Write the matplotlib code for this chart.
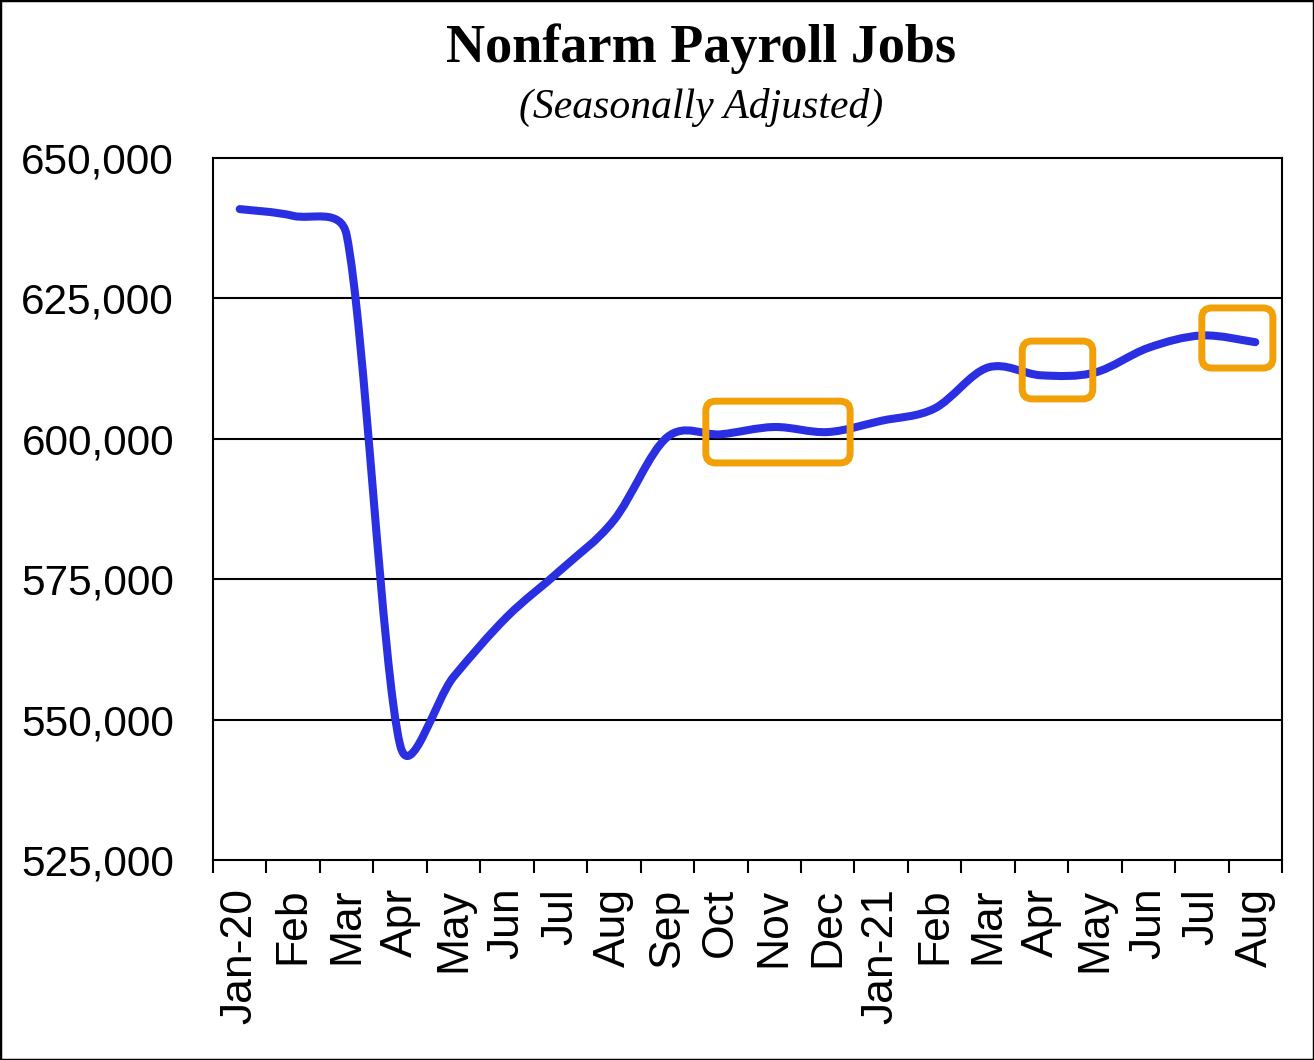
import matplotlib.pyplot as plt
import numpy as np
from matplotlib.path import Path
from matplotlib.patches import PathPatch, FancyBboxPatch, Rectangle


months = ['Jan-20', 'Feb', 'Mar', 'Apr', 'May', 'Jun', 'Jul', 'Aug', 'Sep', 'Oct',
          'Nov', 'Dec', 'Jan-21', 'Feb', 'Mar', 'Apr', 'May', 'Jun', 'Jul', 'Aug']
jobs = [640900, 639700, 636300, 545500, 557600, 568300, 576600, 585500, 600300, 600800,
        602100, 601200, 603200, 605400, 612700, 611300, 611800, 616200, 618400, 617200]
y_ticks = [525000, 550000, 575000, 600000, 625000, 650000]

# highlighted stretches (month index from, to, jobs low, high)
box_x0 = [8.72, 14.64, 18.0]
box_x1 = [11.42, 15.96, 19.33]
box_lo = [595700, 607100, 612600]
box_hi = [606700, 617400, 623300]

LINE_BLUE = '#2A2FE2'
BOX_ORANGE = '#F2A007'


def smooth_path(ax, xs, ys):
    # excel-like smoothed line: cubic bezier through the points,
    # control arms clamped to half of the segment length
    pts = ax.transData.transform(np.column_stack([xs, ys]))
    n = len(pts)
    verts = [pts[0]]
    codes = [Path.MOVETO]
    for i in range(n - 1):
        p0 = pts[max(i - 1, 0)]
        p1 = pts[i]
        p2 = pts[i + 1]
        p3 = pts[min(i + 2, n - 1)]
        d12 = np.hypot(*(p2 - p1))
        d02 = np.hypot(*(p2 - p0))
        d13 = np.hypot(*(p3 - p1))
        f1 = min(1 / 6, 0.5 * d12 / d02) if d02 > 0 else 0
        f2 = min(1 / 6, 0.5 * d12 / d13) if d13 > 0 else 0
        verts += [p1 + f1 * (p2 - p0), p2 - f2 * (p3 - p1), p2]
        codes += [Path.CURVE4] * 3
    verts = ax.transData.inverted().transform(np.array(verts))
    return Path(verts, codes)


fig = plt.figure(figsize=(13.14, 10.6), dpi=100)
ax = fig.add_axes([213 / 1314, 1 - 860 / 1060, 1069 / 1314, 702 / 1060])

x = np.arange(len(months))
ax.set_xlim(-0.5, len(months) - 0.5)
ax.set_ylim(y_ticks[0], y_ticks[-1])

# grid
for yv in y_ticks[1:-1]:
    ax.axhline(yv, color='black', lw=1.5, zorder=1)

for s in ax.spines.values():
    s.set_linewidth(1.5)
    s.set_color('black')

ax.add_patch(PathPatch(smooth_path(ax, x, jobs), fill=False, ec=LINE_BLUE,
                       lw=5.8, capstyle='round', joinstyle='round', zorder=3))

# orange highlight boxes, rounded corners kept circular on screen
o, one = ax.transData.transform([[0, 0], [1, 1]])
sx, sy = one - o
aspect = sx / sy
for x0, x1, lo, hi in zip(box_x0, box_x1, box_lo, box_hi):
    ax.add_patch(FancyBboxPatch((x0, lo), x1 - x0, hi - lo,
                                boxstyle='round,pad=0,rounding_size=%f' % (10 / sx),
                                mutation_aspect=aspect,
                                fill=False, ec=BOX_ORANGE, lw=5, zorder=4))

# x axis: ticks between months, labels on the months
ax.set_xticks(np.arange(-0.5, len(months), 1))
ax.set_xticklabels([])
ax.set_xticks(x, minor=True)
ax.set_xticklabels(months, minor=True, rotation=90, fontsize=32,
                   family='Liberation Sans')
ax.tick_params(axis='x', which='major', length=9.5, width=1.5, direction='out')
ax.tick_params(axis='x', which='minor', length=0, pad=20)

ax.set_yticks(y_ticks)
ax.set_yticklabels(['{:,}'.format(v) for v in y_ticks], fontsize=30.5,
                   family='Liberation Sans')
ax.tick_params(axis='y', length=0, pad=28)

fig.text(701 / 1314, 1 - 62 / 1060, 'Nonfarm Payroll Jobs', ha='center',
         va='baseline', fontsize=39, weight='bold', family='Liberation Serif')
fig.text(701 / 1314, 1 - 118 / 1060, '(Seasonally Adjusted)', ha='center',
         va='baseline', fontsize=30, style='italic', family='Liberation Serif')

fig.patches.append(Rectangle((0, 0), 1, 1, transform=fig.transFigure, fill=False,
                             ec='black', lw=2.5))

fig.savefig('out.png', dpi=100)
